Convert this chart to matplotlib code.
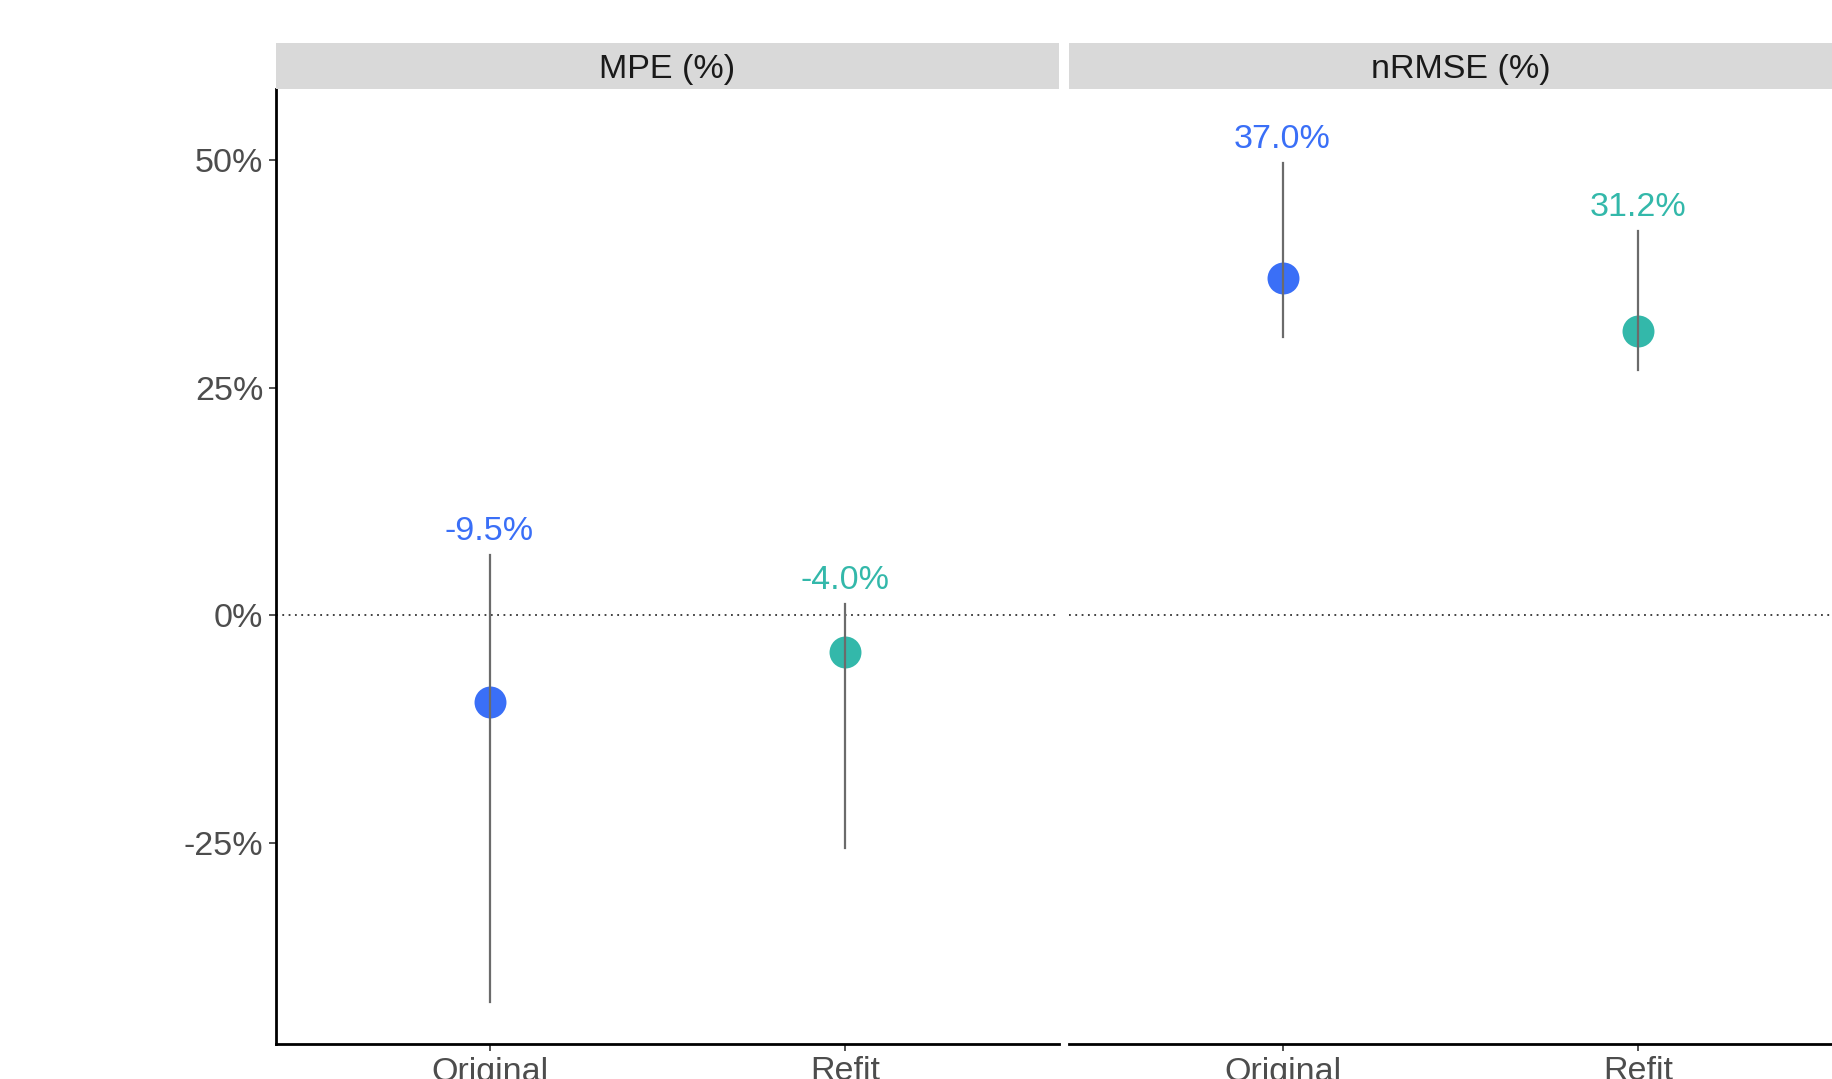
import matplotlib.pyplot as plt

plt.rcParams['font.family'] = ['Liberation Sans', 'DejaVu Sans']

# model fit metrics, one panel per metric
metrics = ['MPE (%)', 'nRMSE (%)']
models = ['Original', 'Refit']
estimate = {'MPE (%)': [-9.5, -4.0], 'nRMSE (%)': [37.0, 31.2]}
lower = {'MPE (%)': [-42.5, -25.6], 'nRMSE (%)': [30.6, 26.9]}
upper = {'MPE (%)': [6.6, 1.2], 'nRMSE (%)': [49.7, 42.2]}
colors = ['#3a6ff7', '#33b8aa']

yticks = [-25, 0, 25, 50]
ylim = (-47.1, 57.8)

fig = plt.figure(figsize=(18.33, 10.79), dpi=100)

W, H = 1833, 1079
panel_w = 783
panel_left = [276, 1069]
panel_top, panel_bottom = 89, 1044
strip_top = 43

for i, metric in enumerate(metrics):
    x0 = panel_left[i] / W
    ax = fig.add_axes([x0, 1 - panel_bottom / H, panel_w / W,
                       (panel_bottom - panel_top) / H])
    xs = list(range(1, len(models) + 1))

    ax.axhline(0, color='#333333', linestyle=(0, (1, 2.5)), linewidth=1.3, zorder=1)
    for x, est, lo, hi, c in zip(xs, estimate[metric], lower[metric],
                                 upper[metric], colors):
        ax.plot([x], [est], 'o', color=c, markersize=23, markeredgewidth=0, zorder=2)
        ax.plot([x, x], [lo, hi], color='#6b6b6b', linewidth=1.6, zorder=3)
        ax.annotate(f'{est:.1f}%', (x, hi), xytext=(0, 17), textcoords='offset points',
                    ha='center', va='center', color=c, fontsize=24.5)

    ax.set_xlim(0.4, 2.6)
    ax.set_ylim(*ylim)
    ax.set_xticks(xs)
    ax.set_xticklabels(models)
    ax.set_yticks(yticks)
    ax.set_yticklabels([f'{t}%' for t in yticks])
    ax.tick_params(axis='both', labelsize=24.5, labelcolor='#4d4d4d', color='#333333',
                   length=5, width=1.2, pad=4)

    for side in ['top', 'right']:
        ax.spines[side].set_visible(False)
    ax.spines['bottom'].set_linewidth(2)
    ax.spines['left'].set_linewidth(2)
    if i > 0:
        ax.spines['left'].set_visible(False)
        ax.tick_params(axis='y', left=False, labelleft=False)

    # facet strip
    sax = fig.add_axes([x0, 1 - panel_top / H, panel_w / W, (panel_top - strip_top) / H])
    sax.set_facecolor('#d9d9d9')
    sax.set_xticks([])
    sax.set_yticks([])
    for s in sax.spines.values():
        s.set_visible(False)
    sax.text(0.5, 0.5, metric, ha='center', va='center_baseline', fontsize=24.5,
             color='#1a1a1a', transform=sax.transAxes)

fig.savefig('out.png', dpi=100)
